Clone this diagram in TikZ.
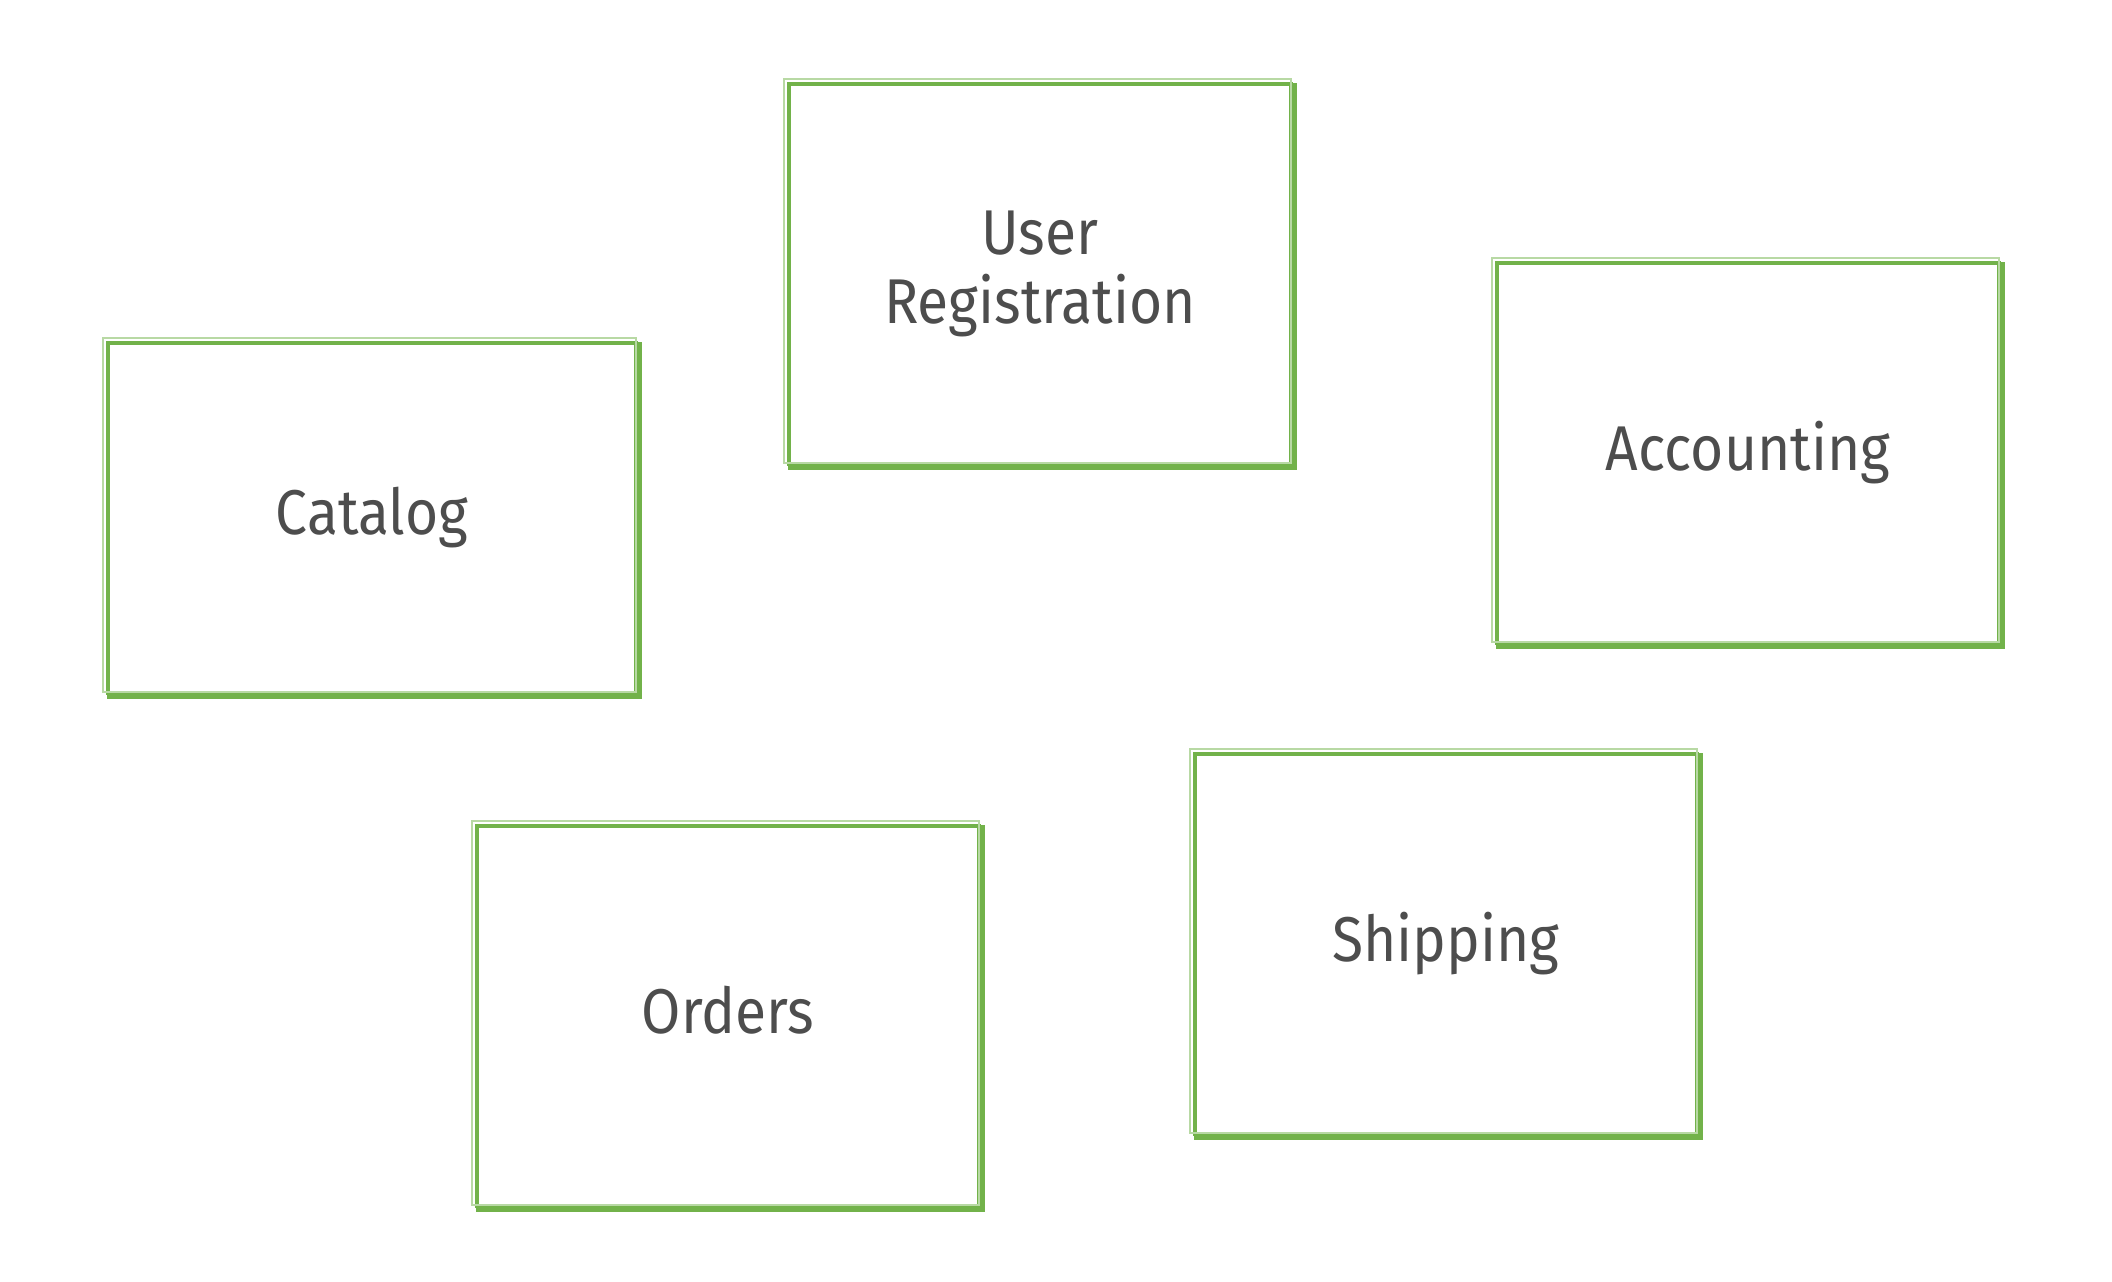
\documentclass[tikz,border=0pt]{standalone}
\usepackage{fontspec}
\setmainfont{Fira Sans}[FakeStretch=0.9]
\usepackage{tikz}
\usetikzlibrary{positioning}
\definecolor{bcGreen}{RGB}{114,178,74}
\definecolor{bcText}{RGB}{77,77,77}
\tikzset{
    base/.style={font=\fontsize{18}{19.6}\selectfont, align=center, text=bcText},
    context/.style={base, rectangle, draw=bcGreen, line width=1.1pt,
                    minimum width=5.02cm, minimum height=3.8cm, inner sep=0pt},
    sketch/.style={draw=bcGreen!50, line width=0.5pt},
    heavy/.style={draw=bcGreen, line width=1.3pt}
}
\begin{document}
\begin{tikzpicture}
  \useasboundingbox (0,0) rectangle (21.12,12.82);
  \node[context, minimum width=5.28cm, minimum height=3.5cm] (catalog) at (3.72,7.64) {Catalog};
  \node[context] (userreg) at (10.4,10.08) {User\\Registration};
  \node[context] (accounting) at (17.48,8.29) {Accounting};
  \node[context, text depth=0.12cm] (orders) at (7.28,2.66) {Orders};
  \node[context] (shipping) at (14.46,3.38) {Shipping};

  % rough second stroke
  \foreach \n in {catalog,userreg,accounting,orders,shipping} {
    \draw[sketch] ([xshift=-0.8pt,yshift=0.8pt]\n.north west) rectangle ([xshift=-0.6pt,yshift=0.9pt]\n.south east);
    \draw[heavy] ([xshift=0.4pt,yshift=-0.4pt]\n.south west) -- ([xshift=0.4pt,yshift=-0.4pt]\n.south east) -- ([xshift=0.4pt,yshift=-0.4pt]\n.north east);
  }
\end{tikzpicture}
\end{document}
